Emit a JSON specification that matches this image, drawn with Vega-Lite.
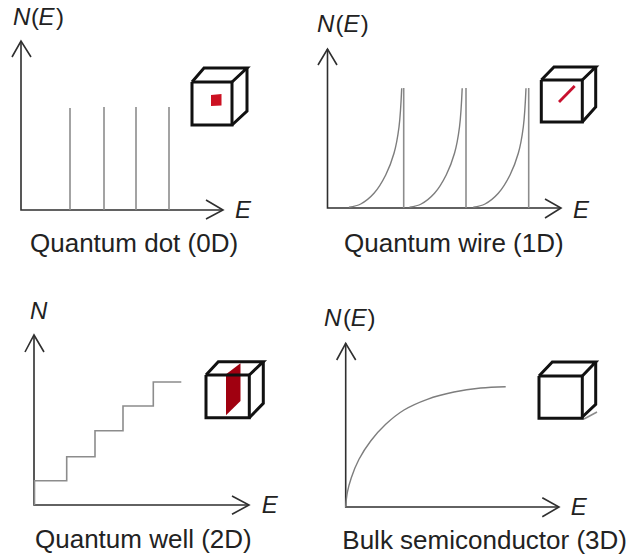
{"$schema":"https://vega.github.io/schema/vega-lite/v6.json","padding":0,"background":"white","spacing":0,"bounds":"flush","columns":2,"config":{"view":{"stroke":null}},
"data":{"values":[
{"p":"0D","k":"axis","s":"a","i":0,"x":21,"y":237},{"p":"0D","k":"axis","s":"a","i":1,"x":21,"y":68},{"p":"0D","k":"axis","s":"a","i":2,"x":223,"y":68},
{"p":"0D","k":"axis","s":"b","i":0,"x":12,"y":221},{"p":"0D","k":"axis","s":"b","i":1,"x":21,"y":237},{"p":"0D","k":"axis","s":"b","i":2,"x":31,"y":221},
{"p":"0D","k":"axis","s":"c","i":0,"x":206,"y":78},{"p":"0D","k":"axis","s":"c","i":1,"x":223,"y":68},{"p":"0D","k":"axis","s":"c","i":2,"x":206,"y":59},
{"p":"0D","k":"gray","s":"l1","i":0,"x":70,"y":68},{"p":"0D","k":"gray","s":"l1","i":1,"x":70,"y":170},
{"p":"0D","k":"gray","s":"l2","i":0,"x":104,"y":68},{"p":"0D","k":"gray","s":"l2","i":1,"x":104,"y":171},
{"p":"0D","k":"gray","s":"l3","i":0,"x":136,"y":68},{"p":"0D","k":"gray","s":"l3","i":1,"x":136,"y":171},
{"p":"0D","k":"gray","s":"l4","i":0,"x":169,"y":68},{"p":"0D","k":"gray","s":"l4","i":1,"x":169,"y":171},
{"p":"0D","k":"red","s":"r","i":0,"x":211,"y":172,"y2":183},{"p":"0D","k":"red","s":"r","i":1,"x":221.5,"y":172.5,"y2":184},
{"p":"0D","k":"cube","s":"f","i":0,"x":192,"y":196},{"p":"0D","k":"cube","s":"f","i":1,"x":232,"y":196},{"p":"0D","k":"cube","s":"f","i":2,"x":232,"y":153},{"p":"0D","k":"cube","s":"f","i":3,"x":192,"y":153},{"p":"0D","k":"cube","s":"f","i":4,"x":192,"y":196},
{"p":"0D","k":"cube","s":"t","i":0,"x":192,"y":196},{"p":"0D","k":"cube","s":"t","i":1,"x":204,"y":210},{"p":"0D","k":"cube","s":"t","i":2,"x":247,"y":210},{"p":"0D","k":"cube","s":"t","i":3,"x":232,"y":196},
{"p":"0D","k":"cube","s":"u","i":0,"x":247,"y":210},{"p":"0D","k":"cube","s":"u","i":1,"x":247,"y":167},{"p":"0D","k":"cube","s":"u","i":2,"x":232,"y":153},
{"p":"0D","k":"ital","x":13,"y":253,"t":"N"},{"p":"0D","k":"plain","x":31,"y":253,"t":"("},{"p":"0D","k":"ital","x":38.5,"y":253,"t":"E"},{"p":"0D","k":"plain","x":56,"y":253,"t":")"},
{"p":"0D","k":"ital","x":235,"y":60,"t":"E"},{"p":"0D","k":"title","x":30,"y":26,"t":"Quantum dot (0D)"},

{"p":"1D","k":"axis","s":"a","i":0,"x":13.5,"y":229},{"p":"1D","k":"axis","s":"a","i":1,"x":13.5,"y":70},{"p":"1D","k":"axis","s":"a","i":2,"x":247,"y":70},
{"p":"1D","k":"axis","s":"b","i":0,"x":4,"y":213},{"p":"1D","k":"axis","s":"b","i":1,"x":13.5,"y":229},{"p":"1D","k":"axis","s":"b","i":2,"x":23,"y":213},
{"p":"1D","k":"axis","s":"c","i":0,"x":231,"y":79},{"p":"1D","k":"axis","s":"c","i":1,"x":247,"y":70},{"p":"1D","k":"axis","s":"c","i":2,"x":231,"y":60},
{"p":"1D","k":"gray","s":"v1","i":0,"x":89.7,"y":70},{"p":"1D","k":"gray","s":"v1","i":1,"x":89.7,"y":190},
{"p":"1D","k":"gray","s":"v2","i":0,"x":152,"y":70},{"p":"1D","k":"gray","s":"v2","i":1,"x":152,"y":190},
{"p":"1D","k":"gray","s":"v3","i":0,"x":214.7,"y":70},{"p":"1D","k":"gray","s":"v3","i":1,"x":214.7,"y":190},
{"p":"1D","k":"curve","s":"c1","i":0,"x":35,"y":70.7},{"p":"1D","k":"curve","s":"c1","i":1,"x":46.7,"y":74},{"p":"1D","k":"curve","s":"c1","i":2,"x":60,"y":84.7},{"p":"1D","k":"curve","s":"c1","i":3,"x":71.7,"y":103},{"p":"1D","k":"curve","s":"c1","i":4,"x":80,"y":124.7},{"p":"1D","k":"curve","s":"c1","i":5,"x":85,"y":151},{"p":"1D","k":"curve","s":"c1","i":6,"x":87.7,"y":189.7},
{"p":"1D","k":"curve","s":"c2","i":0,"x":95.5,"y":70.7},{"p":"1D","k":"curve","s":"c2","i":1,"x":107.2,"y":74},{"p":"1D","k":"curve","s":"c2","i":2,"x":120.5,"y":84.7},{"p":"1D","k":"curve","s":"c2","i":3,"x":132.2,"y":103},{"p":"1D","k":"curve","s":"c2","i":4,"x":140.5,"y":124.7},{"p":"1D","k":"curve","s":"c2","i":5,"x":145.5,"y":151},{"p":"1D","k":"curve","s":"c2","i":6,"x":148.2,"y":189.7},
{"p":"1D","k":"curve","s":"c3","i":0,"x":159.3,"y":70.7},{"p":"1D","k":"curve","s":"c3","i":1,"x":171,"y":74},{"p":"1D","k":"curve","s":"c3","i":2,"x":184.3,"y":84.7},{"p":"1D","k":"curve","s":"c3","i":3,"x":196,"y":103},{"p":"1D","k":"curve","s":"c3","i":4,"x":204.3,"y":124.7},{"p":"1D","k":"curve","s":"c3","i":5,"x":209.3,"y":151},{"p":"1D","k":"curve","s":"c3","i":6,"x":212,"y":189.7},
{"p":"1D","k":"redline","s":"r","i":0,"x":245,"y":176},{"p":"1D","k":"redline","s":"r","i":1,"x":260.7,"y":192},
{"p":"1D","k":"cube","s":"f","i":0,"x":227.3,"y":198},{"p":"1D","k":"cube","s":"f","i":1,"x":268.3,"y":198},{"p":"1D","k":"cube","s":"f","i":2,"x":268.3,"y":156},{"p":"1D","k":"cube","s":"f","i":3,"x":227.3,"y":156},{"p":"1D","k":"cube","s":"f","i":4,"x":227.3,"y":198},
{"p":"1D","k":"cube","s":"t","i":0,"x":227.3,"y":198},{"p":"1D","k":"cube","s":"t","i":1,"x":240,"y":211},{"p":"1D","k":"cube","s":"t","i":2,"x":281.7,"y":211},{"p":"1D","k":"cube","s":"t","i":3,"x":268.3,"y":198},
{"p":"1D","k":"cube","s":"u","i":0,"x":281.7,"y":211},{"p":"1D","k":"cube","s":"u","i":1,"x":281.7,"y":171},{"p":"1D","k":"cube","s":"u","i":2,"x":268.3,"y":156},
{"p":"1D","k":"ital","x":3,"y":246,"t":"N"},{"p":"1D","k":"plain","x":21.5,"y":246,"t":"("},{"p":"1D","k":"ital","x":29.5,"y":246,"t":"E"},{"p":"1D","k":"plain","x":46.7,"y":246,"t":")"},
{"p":"1D","k":"ital","x":259,"y":60,"t":"E"},{"p":"1D","k":"title","x":30,"y":26,"t":"Quantum wire (1D)"},

{"p":"2D","k":"axis","s":"a","i":0,"x":34,"y":221},{"p":"2D","k":"axis","s":"a","i":1,"x":34,"y":51},{"p":"2D","k":"axis","s":"a","i":2,"x":249,"y":51},
{"p":"2D","k":"axis","s":"b","i":0,"x":25,"y":204},{"p":"2D","k":"axis","s":"b","i":1,"x":34,"y":221},{"p":"2D","k":"axis","s":"b","i":2,"x":44,"y":204},
{"p":"2D","k":"axis","s":"c","i":0,"x":232,"y":60},{"p":"2D","k":"axis","s":"c","i":1,"x":249,"y":51},{"p":"2D","k":"axis","s":"c","i":2,"x":232,"y":41.7},
{"p":"2D","k":"gray","s":"st","i":0,"x":34.5,"y":51},{"p":"2D","k":"gray","s":"st","i":1,"x":34.5,"y":75.3},{"p":"2D","k":"gray","s":"st","i":2,"x":66.7,"y":75.3},{"p":"2D","k":"gray","s":"st","i":3,"x":66.7,"y":99.3},{"p":"2D","k":"gray","s":"st","i":4,"x":95,"y":99.3},{"p":"2D","k":"gray","s":"st","i":5,"x":95,"y":125.3},{"p":"2D","k":"gray","s":"st","i":6,"x":123,"y":125.3},{"p":"2D","k":"gray","s":"st","i":7,"x":123,"y":150},{"p":"2D","k":"gray","s":"st","i":8,"x":153.3,"y":150},{"p":"2D","k":"gray","s":"st","i":9,"x":153.3,"y":174},{"p":"2D","k":"gray","s":"st","i":10,"x":181.3,"y":174},
{"p":"2D","k":"red","s":"r","i":0,"x":226,"y":140.7,"y2":181.7},{"p":"2D","k":"red","s":"r","i":1,"x":240.5,"y":155,"y2":192.7},
{"p":"2D","k":"cube","s":"f","i":0,"x":206,"y":181},{"p":"2D","k":"cube","s":"f","i":1,"x":249.3,"y":181},{"p":"2D","k":"cube","s":"f","i":2,"x":249.3,"y":138.3},{"p":"2D","k":"cube","s":"f","i":3,"x":206,"y":138.3},{"p":"2D","k":"cube","s":"f","i":4,"x":206,"y":181},
{"p":"2D","k":"cube","s":"t","i":0,"x":206,"y":181},{"p":"2D","k":"cube","s":"t","i":1,"x":218.3,"y":194.3},{"p":"2D","k":"cube","s":"t","i":2,"x":263.3,"y":194.3},{"p":"2D","k":"cube","s":"t","i":3,"x":249.3,"y":181},
{"p":"2D","k":"cube","s":"u","i":0,"x":263.3,"y":194.3},{"p":"2D","k":"cube","s":"u","i":1,"x":263.3,"y":152.7},{"p":"2D","k":"cube","s":"u","i":2,"x":249.3,"y":138.3},
{"p":"2D","k":"ital","x":30,"y":237.3,"t":"N"},{"p":"2D","k":"ital","x":261.7,"y":43.3,"t":"E"},{"p":"2D","k":"title","x":35,"y":8.3,"t":"Quantum well (2D)"},

{"p":"3D","k":"axis","s":"a","i":0,"x":31.7,"y":212.7},{"p":"3D","k":"axis","s":"a","i":1,"x":31.7,"y":49},{"p":"3D","k":"axis","s":"a","i":2,"x":245,"y":49},
{"p":"3D","k":"axis","s":"b","i":0,"x":22.7,"y":196},{"p":"3D","k":"axis","s":"b","i":1,"x":31.7,"y":212.7},{"p":"3D","k":"axis","s":"b","i":2,"x":41.7,"y":196},
{"p":"3D","k":"axis","s":"c","i":0,"x":228.3,"y":58.3},{"p":"3D","k":"axis","s":"c","i":1,"x":245,"y":49},{"p":"3D","k":"axis","s":"c","i":2,"x":228.3,"y":39.3},
{"p":"3D","k":"curve","s":"c1","i":0,"x":31.7,"y":49},{"p":"3D","k":"curve","s":"c1","i":1,"x":33.3,"y":63.3},{"p":"3D","k":"curve","s":"c1","i":2,"x":37.3,"y":78.3},{"p":"3D","k":"curve","s":"c1","i":3,"x":45,"y":96.7},{"p":"3D","k":"curve","s":"c1","i":4,"x":56.7,"y":115},{"p":"3D","k":"curve","s":"c1","i":5,"x":71.7,"y":131.7},{"p":"3D","k":"curve","s":"c1","i":6,"x":90,"y":146},{"p":"3D","k":"curve","s":"c1","i":7,"x":113.3,"y":156.7},{"p":"3D","k":"curve","s":"c1","i":8,"x":140,"y":164},{"p":"3D","k":"curve","s":"c1","i":9,"x":166.7,"y":168},{"p":"3D","k":"curve","s":"c1","i":10,"x":191.7,"y":169.3},
{"p":"3D","k":"gray","s":"g","i":0,"x":270,"y":137},{"p":"3D","k":"gray","s":"g","i":1,"x":283,"y":144},
{"p":"3D","k":"cube","s":"f","i":0,"x":225,"y":180},{"p":"3D","k":"cube","s":"f","i":1,"x":268.3,"y":180},{"p":"3D","k":"cube","s":"f","i":2,"x":268.3,"y":137.7},{"p":"3D","k":"cube","s":"f","i":3,"x":225,"y":137.7},{"p":"3D","k":"cube","s":"f","i":4,"x":225,"y":180},
{"p":"3D","k":"cube","s":"t","i":0,"x":225,"y":180},{"p":"3D","k":"cube","s":"t","i":1,"x":238.3,"y":194},{"p":"3D","k":"cube","s":"t","i":2,"x":281.7,"y":194},{"p":"3D","k":"cube","s":"t","i":3,"x":268.3,"y":180},
{"p":"3D","k":"cube","s":"u","i":0,"x":281.7,"y":194},{"p":"3D","k":"cube","s":"u","i":1,"x":281.7,"y":151.7},{"p":"3D","k":"cube","s":"u","i":2,"x":268.3,"y":139},
{"p":"3D","k":"ital","x":10,"y":230,"t":"N"},{"p":"3D","k":"plain","x":29,"y":230,"t":"("},{"p":"3D","k":"ital","x":36.7,"y":230,"t":"E"},{"p":"3D","k":"plain","x":53.5,"y":230,"t":")"},
{"p":"3D","k":"ital","x":256.7,"y":40.7,"t":"E"},{"p":"3D","k":"title","x":28.3,"y":6.7,"t":"Bulk semiconductor (3D)"}
]},
"facet":{"field":"p","type":"nominal","title":null,"header":{"title":null,"labelExpr":"''","labelFontSize":0,"labelPadding":0,"titlePadding":0}},
"spec":{"width":314,"height":278,
"encoding":{
"x":{"field":"x","type":"quantitative","scale":{"domain":[0,314],"nice":false,"zero":false},"axis":null},
"y":{"field":"y","type":"quantitative","scale":{"domain":[0,278],"nice":false,"zero":false},"axis":null}},
"layer":[
{"transform":[{"filter":"datum.k==='axis'"}],"mark":{"type":"line","stroke":"#2f2f2f","strokeWidth":1.6},"encoding":{"detail":{"field":"s"},"order":{"field":"i"}}},
{"transform":[{"filter":"datum.k==='gray'"}],"mark":{"type":"line","stroke":"#8c8c8c","strokeWidth":1.6},"encoding":{"detail":{"field":"s"},"order":{"field":"i"}}},
{"transform":[{"filter":"datum.k==='curve'"}],"mark":{"type":"line","stroke":"#7d7d7d","strokeWidth":1.4,"interpolate":"catmull-rom"},"encoding":{"detail":{"field":"s"},"order":{"field":"i"}}},
{"transform":[{"filter":"datum.k==='red'"}],"mark":{"type":"area","opacity":1},"encoding":{"y2":{"field":"y2"},"detail":{"field":"s"},"color":{"condition":{"test":"datum.p==='0D'","value":"#cc1122"},"value":"#a00010"}}},
{"transform":[{"filter":"datum.k==='redline'"}],"mark":{"type":"line","stroke":"#c8102e","strokeWidth":2.8},"encoding":{"detail":{"field":"s"},"order":{"field":"i"}}},
{"transform":[{"filter":"datum.k==='cube'"}],"mark":{"type":"line","stroke":"#111111","strokeWidth":3,"strokeJoin":"miter"},"encoding":{"detail":{"field":"s"},"order":{"field":"i"}}},
{"transform":[{"filter":"datum.k==='ital'"}],"mark":{"type":"text","font":"Liberation Sans","fontSize":24,"fontStyle":"italic","align":"left","baseline":"alphabetic","color":"#222222"},"encoding":{"text":{"field":"t"}}},
{"transform":[{"filter":"datum.k==='plain'"}],"mark":{"type":"text","font":"Liberation Sans","fontSize":24,"align":"left","baseline":"alphabetic","color":"#222222"},"encoding":{"text":{"field":"t"}}},
{"transform":[{"filter":"datum.k==='title'"}],"mark":{"type":"text","font":"Liberation Sans","fontSize":26,"align":"left","baseline":"alphabetic","color":"#222222"},"encoding":{"text":{"field":"t"}}}
]}}
